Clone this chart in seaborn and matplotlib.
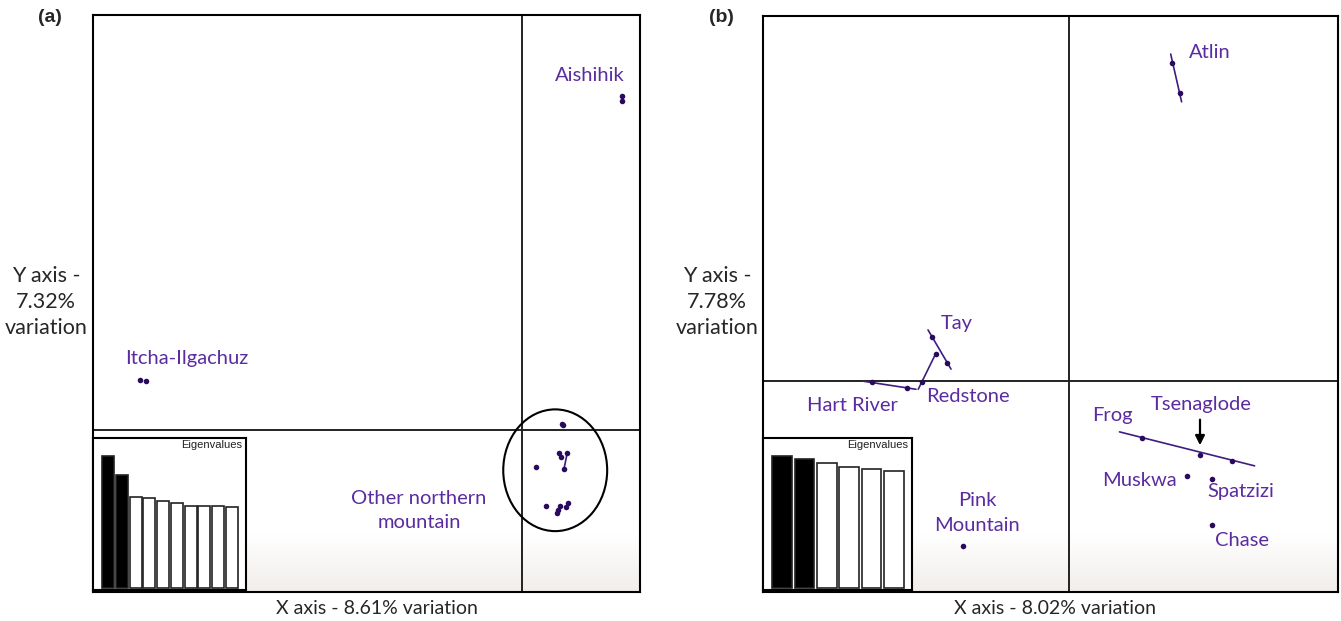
import numpy as np
import pandas as pd
import seaborn as sns
import matplotlib.pyplot as plt
from matplotlib.patches import Ellipse
from matplotlib.colors import LinearSegmentedColormap

# ---- data (axis units, 0-100 across each ordination panel) ----
# panel (a)
a_names = ['Aishihik'] * 2 + ['Itcha-Ilgachuz'] * 2 + ['Other northern mountain'] * 13
a_x = [96.7, 96.7, 8.6, 9.7,
       85.7, 85.9, 85.2, 85.6, 86.7, 86.1, 81.0, 82.8, 84.8, 85.0, 85.4, 86.5, 86.8]
a_y = [86.0, 85.1, 36.7, 36.6,
       29.1, 28.9, 24.1, 23.4, 24.1, 21.3, 21.7, 14.9, 13.7, 14.2, 14.9, 14.7, 15.4]
a_links = [((86.7, 24.1), (86.1, 21.3))]
a_eigen = [132, 113, 91, 90, 87, 85, 82, 82, 82, 81]
a_axes_cross = (78.4, 28.1)

# panel (b)
b_names = ['Atlin', 'Atlin', 'Tay', 'Tay', 'Tay', 'Redstone', 'Hart River', 'Hart River',
           'Frog', 'Tsenaglode', 'Frog', 'Muskwa', 'Spatzizi', 'Chase', 'Pink Mountain']
b_x = [71.2, 72.5, 29.4, 30.0, 32.0, 27.7, 18.9, 25.0, 65.9, 76.0, 81.6, 73.7, 78.0, 78.0, 34.8]
b_y = [91.9, 86.6, 44.3, 41.3, 39.8, 36.5, 36.4, 35.5, 26.7, 23.8, 22.8, 20.2, 19.6, 11.6, 8.0]
b_links = [((70.9, 93.4), (72.8, 85.1)),
           ((28.7, 45.5), (32.7, 38.7)),
           ((30.0, 41.3), (27.0, 35.2)),
           ((17.4, 36.6), (26.6, 35.2)),
           ((62.0, 27.8), (85.5, 21.9))]
b_eigen = [132, 129, 125, 121, 119, 117]
b_axes_cross = (53.2, 36.6)

PT = '#2a0a5c'
LINE = '#3f1d80'
LAB = '#5a2ca0'

sns.set_style('white')
plt.rcParams['font.family'] = ['Lato', 'DejaVu Sans']

fig = plt.figure(figsize=(13.41, 6.21), dpi=100)
W, H = 1341, 621
fade = LinearSegmentedColormap.from_list('fade', ['#ffffff', '#f1eeeb'])


def panel(rect):
    ax = fig.add_axes([rect[0] / W, (H - rect[3]) / H, (rect[2] - rect[0]) / W, (rect[3] - rect[1]) / H])
    ax.set_xticks([])
    ax.set_yticks([])
    for s in ax.spines.values():
        s.set_color('black')
        s.set_linewidth(1.5)
    # faint grey fade at the bottom
    grad = np.linspace(1, 0, 100).reshape(-1, 1)
    ax.imshow(grad, extent=[0, 1, 0, 0.1], transform=ax.transAxes, aspect='auto',
              cmap=fade, origin='lower', zorder=0)
    ax.set_xlim(0, 100)
    ax.set_ylim(0, 100)
    return ax


def eigen_inset(rect, vals, nblack):
    ax = fig.add_axes([rect[0] / W, (H - rect[3]) / H, (rect[2] - rect[0]) / W, (rect[3] - rect[1]) / H])
    df = pd.DataFrame({'axis': [str(i) for i in range(len(vals))], 'ev': vals})
    cols = ['black'] * nblack + ['white'] * (len(vals) - nblack)
    sns.barplot(data=df, x='axis', y='ev', hue='axis', palette=cols, legend=False,
                edgecolor='#222222', linewidth=1.2, width=0.88, ax=ax)
    unit = (rect[2] - rect[0] - 17) / len(vals)
    ax.set_xlim(-0.44 - 9 / unit, len(vals) - 0.56 + 8 / unit)
    ax.set_ylim(-2, 150)
    ax.set_xticks([])
    ax.set_yticks([])
    ax.set_xlabel('')
    ax.set_ylabel('')
    ax.set_facecolor('white')
    for s in ax.spines.values():
        s.set_color('black')
        s.set_linewidth(1.5)
    ax.text(0.975, 0.985, 'Eigenvalues', transform=ax.transAxes, ha='right', va='top',
            fontsize=8, color='#222222', family=['Liberation Sans', 'DejaVu Sans'])
    return ax


def draw_points(ax, xs, ys, links):
    for (x0, y0), (x1, y1) in links:
        ax.plot([x0, x1], [y0, y1], color=LINE, lw=1.2, zorder=3)
    sns.scatterplot(x=xs, y=ys, ax=ax, color=PT, s=16, linewidth=0, zorder=4)


# ---- panel (a) ----
axA = panel((93, 15, 640, 592))
axA.axvline(a_axes_cross[0], color='#222222', lw=1.4, zorder=2)
axA.axhline(a_axes_cross[1], color='#222222', lw=1.4, zorder=2)
draw_points(axA, a_x, a_y, a_links)
axA.add_patch(Ellipse((84.5, 21.1), 19.0, 21.1, fill=False, ec='black', lw=1.5, zorder=5))
lab_kw = dict(color=LAB, fontsize=14.5, ha='center', va='center', zorder=6)
axA.text(90.9, 89.6, 'Aishihik', **lab_kw)
axA.text(17.2, 40.4, 'Itcha-Ilgachuz', **lab_kw)
axA.text(59.6, 14.2, 'Other northern\nmountain', linespacing=1.5, **lab_kw)
eigen_inset((93, 438, 246, 590), a_eigen, 2)

# ---- panel (b) ----
axB = panel((763, 16, 1338, 592))
axB.axvline(b_axes_cross[0], color='#222222', lw=1.4, zorder=2)
axB.axhline(b_axes_cross[1], color='#222222', lw=1.4, zorder=2)
draw_points(axB, b_x, b_y, b_links)
axB.annotate('', xy=(76.0, 25.0), xytext=(76.0, 30.4),
             arrowprops=dict(arrowstyle='-|>', color='black', lw=1.6, mutation_scale=14), zorder=6)
axB.text(77.7, 93.7, 'Atlin', **lab_kw)
axB.text(33.7, 46.7, 'Tay', **lab_kw)
axB.text(15.5, 32.3, 'Hart River', **lab_kw)
axB.text(35.7, 34.0, 'Redstone', **lab_kw)
axB.text(60.7, 30.7, 'Frog', **lab_kw)
axB.text(76.2, 32.6, 'Tsenaglode', **lab_kw)
axB.text(65.4, 19.4, 'Muskwa', **lab_kw)
axB.text(83.1, 17.4, 'Spatzizi', **lab_kw)
axB.text(83.3, 9.0, 'Chase', **lab_kw)
axB.text(37.2, 13.7, 'Pink\nMountain', linespacing=1.6, **lab_kw)
eigen_inset((763, 438, 912, 590), b_eigen, 2)

# ---- axis titles and panel letters ----
fig.text(377 / W, 1 - 608 / H, 'X axis - 8.61% variation', fontsize=14, ha='center', va='center')
fig.text(1055 / W, 1 - 608 / H, 'X axis - 8.02% variation', fontsize=14, ha='center', va='center')
fig.text(46 / W, 1 - 302 / H, 'Y axis -\n7.32%\nvariation', fontsize=15.5, linespacing=1.38,
         ha='center', va='center')
fig.text(717 / W, 1 - 302 / H, 'Y axis -\n7.78%\nvariation', fontsize=15.5, linespacing=1.38,
         ha='center', va='center')
fig.text(50 / W, 1 - 18 / H, '(a)', fontsize=14, fontweight='bold', ha='center', va='center',
         family=['Liberation Sans', 'DejaVu Sans'])
fig.text(721 / W, 1 - 18 / H, '(b)', fontsize=14, fontweight='bold', ha='center', va='center',
         family=['Liberation Sans', 'DejaVu Sans'])

fig.savefig('out.png', dpi=100, facecolor='white')
